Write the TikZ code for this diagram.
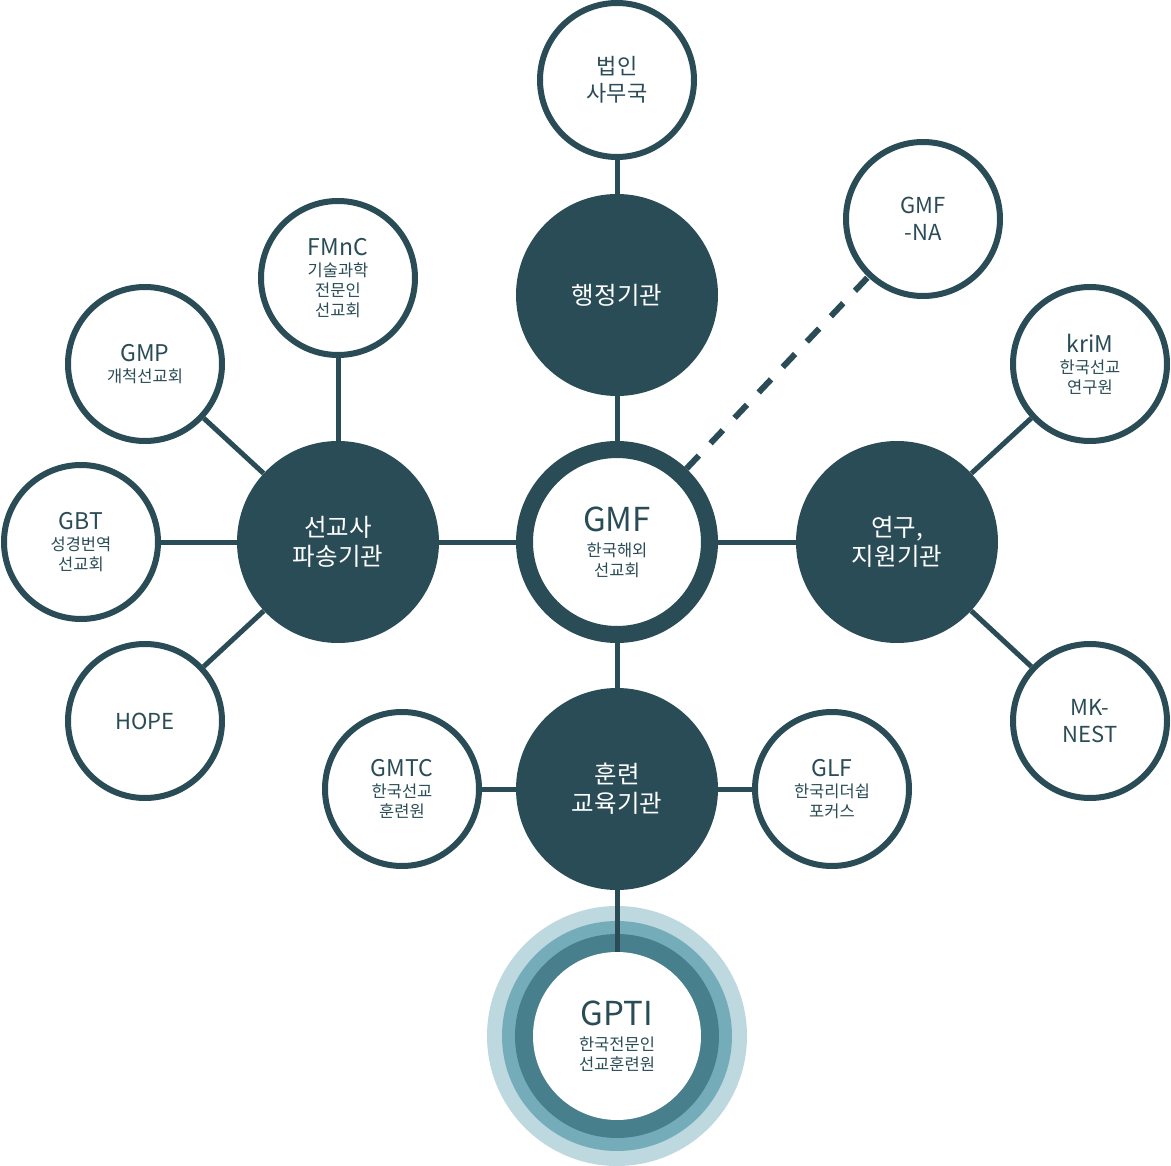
\documentclass[tikz,border=0pt]{standalone}
\usepackage{fontspec}
\setmainfont{Noto Sans CJK KR}
\usepackage{tikz}
\usetikzlibrary{positioning}
\definecolor{slate}{HTML}{2A4C56}
\definecolor{ringlight}{HTML}{BDD8DF}
\definecolor{ringmid}{HTML}{74ACB9}
\definecolor{ringdark}{HTML}{477F8D}
\newcommand{\namefont}{\fontsize{23}{23}\selectfont}
\newcommand{\bigname}{\fontsize{33}{33}\selectfont}

\begin{document}
\begin{tikzpicture}[x=1pt, y=-1pt,
    hub/.style={circle, fill=slate, text=white, minimum size=202pt, inner sep=0pt, align=center, font=\fontsize{24.5}{29}\selectfont},
    org/.style={circle, draw=slate, line width=6pt, fill=white, text=slate, minimum size=154pt, inner sep=0pt, align=center, font=\fontsize{16.5}{20}\selectfont},
    orgplain/.style={org, font=\fontsize{22}{27}\selectfont},
    core/.style={circle, draw=slate, line width=17pt, fill=white, text=slate, minimum size=185pt, inner sep=0pt, align=center, font=\fontsize{16.5}{20}\selectfont},
    link/.style={draw=slate, line width=5pt},
    dashlink/.style={draw=slate, line width=6pt, dash pattern=on 18pt off 17pt}]
    \useasboundingbox (0,0) rectangle (1171,1166);
    % Rings round GPTI
    \foreach \r/\c in {130/ringlight, 115/ringmid, 102/ringdark}
        \fill[\c] (617,1036) circle[radius=\r pt];
    % Nodes
    \node[core] (gmf) at (617,542) {{\bigname GMF}\\[5pt] 한국해외\\ 선교회};
    \node[hub] (admin) at (617,295) {행정기관};
    \node[orgplain] (office) at (617,80) {법인\\ 사무국};
    \node[orgplain] (gmfna) at (923,219) {GMF\\ -NA};
    \node[hub] (mission) at (338,542) {선교사\\ 파송기관};
    \node[org] (fmnc) at (338,278) {{\namefont FMnC}\\[1pt] 기술과학\\ 전문인\\ 선교회};
    \node[org] (gmp) at (145,364) {{\namefont GMP}\\[1pt] 개척선교회};
    \node[org] (gbt) at (81,542) {{\namefont GBT}\\[1pt] 성경번역\\ 선교회};
    \node[orgplain] (hope) at (145,721) {HOPE};
    \node[hub] (research) at (897,542) {연구,\\ 지원기관};
    \node[org] (krim) at (1090,364) {{\namefont kriM}\\[1pt] 한국선교\\ 연구원};
    \node[orgplain] (mknest) at (1090,721) {MK-\\ NEST};
    \node[hub] (training) at (617,789) {훈련\\ 교육기관};
    \node[org] (gmtc) at (402,789) {{\namefont GMTC}\\[1pt] 한국선교\\ 훈련원};
    \node[org] (glf) at (832,789) {{\namefont GLF}\\[1pt] 한국리더쉽\\ 포커스};
    \node[circle, fill=white, text=slate, minimum size=168pt, inner sep=0pt, align=center, font=\fontsize{16.5}{20}\selectfont] (gpti) at (617,1036) {{\bigname GPTI}\\[5pt] 한국전문인\\ 선교훈련원};

    % Links
    \draw[link] (office) -- (admin);
    \draw[link] (admin) -- (gmf);
    \draw[dashlink] (gmf) -- (gmfna);
    \draw[link] (gmf) -- (mission);
    \draw[link] (gmf) -- (research);
    \draw[link] (gmf) -- (training);
    \draw[link] (mission) -- (fmnc);
    \draw[link] (mission) -- (gmp);
    \draw[link] (mission) -- (gbt);
    \draw[link] (mission) -- (hope);
    \draw[link] (research) -- (krim);
    \draw[link] (research) -- (mknest);
    \draw[link] (training) -- (gmtc);
    \draw[link] (training) -- (glf);
    \draw[link] (training) -- (gpti);

\end{tikzpicture}
\end{document}
